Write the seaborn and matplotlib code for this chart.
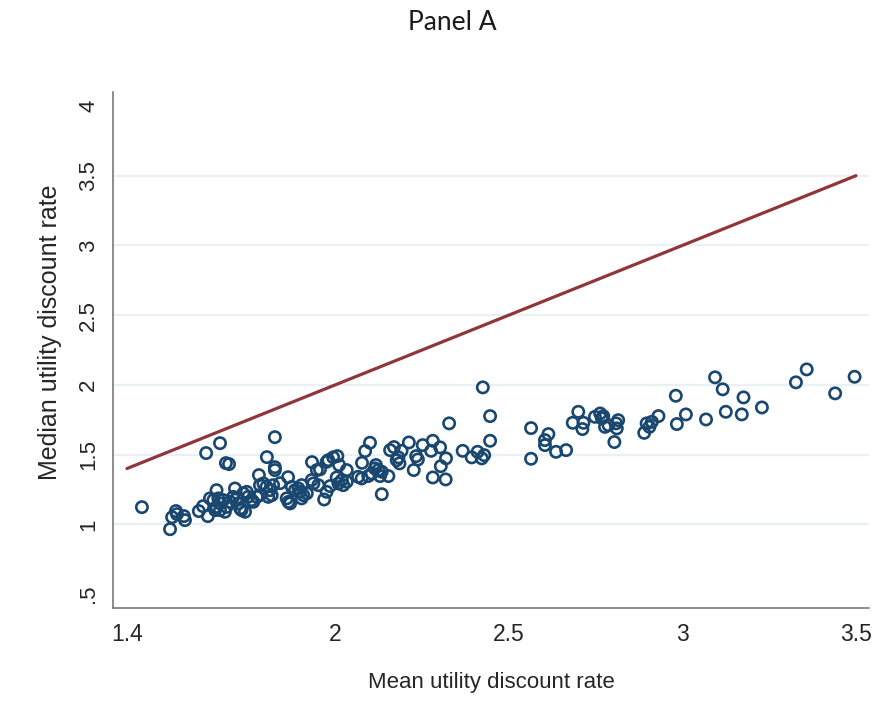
import matplotlib
matplotlib.use("Agg")
import matplotlib.pyplot as plt
from matplotlib import font_manager
import seaborn as sns
import pandas as pd

# ---- data ----
mean_rate = [
    1.443, 1.524, 1.530, 1.541, 1.544, 1.564, 1.567, 1.607, 1.619, 1.633,
    1.628, 1.668, 1.685, 1.694, 1.826, 1.803, 1.780, 1.826, 1.826, 1.864,
    1.933, 1.841,
    1.658, 1.663, 1.649, 1.639, 1.668, 1.677, 1.658, 1.654, 1.668, 1.682,
    1.687, 1.697, 1.711, 1.706, 1.716, 1.721, 1.726, 1.730, 1.740, 1.735,
    1.745, 1.749, 1.759, 1.764, 1.774, 1.783, 1.783, 1.793, 1.802, 1.812,
    1.817, 1.807, 1.821, 1.860, 1.865, 1.870, 1.875, 1.884, 1.894, 1.898,
    1.903, 1.908, 1.918, 1.932, 1.937, 1.947, 1.951,
    2.425, 2.446, 2.446, 2.328, 2.100, 2.086, 2.158, 2.169, 2.191, 2.212,
    2.252, 2.281, 2.276, 2.302, 2.367, 2.410, 2.393, 2.422, 2.429, 2.319,
    2.304, 2.318, 2.281, 2.233, 2.238, 2.226, 2.182, 2.185, 2.177, 2.134,
    2.077, 2.117, 2.114, 2.124, 2.134, 2.105, 2.095, 2.129, 2.153, 2.066,
    2.076, 2.033, 2.011, 1.994, 2.006, 1.980, 1.975, 1.956, 2.004, 2.019,
    2.023, 2.033, 2.009, 1.985, 1.975, 1.968, 1.903,
    2.564, 2.564, 2.604, 2.604, 2.614, 2.636, 2.665, 2.700, 2.684, 2.715,
    2.712, 2.748, 2.763, 2.768, 2.772, 2.777, 2.787, 2.809, 2.815, 2.811,
    2.804, 2.890, 2.897, 2.905, 2.912, 2.931, 2.981, 2.984, 3.010,
    3.094, 3.116, 3.176, 3.229, 3.171, 3.125, 3.068, 3.327, 3.358, 3.440,
    3.496,
]
median_rate = [
    1.123, 0.965, 1.051, 1.095, 1.073, 1.059, 1.030, 1.095, 1.130, 1.059,
    1.511, 1.582, 1.439, 1.432, 1.625, 1.482, 1.353, 1.389, 1.410, 1.338,
    1.446, 1.295,
    1.245, 1.186, 1.174, 1.186, 1.150, 1.174, 1.125, 1.102, 1.102, 1.090,
    1.125, 1.161, 1.257, 1.197, 1.186, 1.150, 1.114, 1.102, 1.090, 1.222,
    1.233, 1.197, 1.174, 1.161, 1.197, 1.209, 1.281, 1.293, 1.269, 1.245,
    1.209, 1.197, 1.281, 1.186, 1.161, 1.150, 1.269, 1.245, 1.257, 1.233,
    1.186, 1.209, 1.222, 1.317, 1.293, 1.389, 1.281,
    1.982, 1.776, 1.599, 1.724, 1.585, 1.525, 1.532, 1.554, 1.527, 1.587,
    1.568, 1.599, 1.527, 1.552, 1.527, 1.520, 1.480, 1.473, 1.496, 1.473,
    1.417, 1.322, 1.336, 1.489, 1.465, 1.389, 1.480, 1.437, 1.460, 1.216,
    1.441, 1.425, 1.401, 1.389, 1.377, 1.365, 1.346, 1.346, 1.346, 1.341,
    1.329, 1.389, 1.425, 1.480, 1.489, 1.460, 1.448, 1.394, 1.336, 1.317,
    1.281, 1.305, 1.293, 1.274, 1.233, 1.178, 1.281,
    1.690, 1.470, 1.604, 1.568, 1.647, 1.520, 1.532, 1.807, 1.728, 1.728,
    1.683, 1.771, 1.795, 1.760, 1.776, 1.699, 1.711, 1.724, 1.747, 1.688,
    1.590, 1.656, 1.724, 1.699, 1.735, 1.776, 1.922, 1.719, 1.788,
    2.054, 1.968, 1.910, 1.838, 1.788, 1.807, 1.752, 2.018, 2.111, 1.939,
    2.058,
]
line_x = [1.4, 3.5]
line_y = [1.4, 3.5]

x_ticks = [1.4, 2, 2.5, 3, 3.5]
x_ticklabels = ["1.4", "2", "2.5", "3", "3.5"]
y_ticks = [0.5, 1, 1.5, 2, 2.5, 3, 3.5, 4]
y_ticklabels = [".5", "1", "1.5", "2", "2.5", "3", "3.5", "4"]

title = "Panel A"
x_label = "Mean utility discount rate"
y_label = "Median utility discount rate"

# ---- styling ----
sns.set_style("white")
available = {f.name for f in font_manager.fontManager.ttflist}
narrow = "Liberation Sans Narrow" if "Liberation Sans Narrow" in available else "Liberation Sans"
plt.rcParams["font.family"] = ["Liberation Sans", "DejaVu Sans"]

navy = "#1a476f"
maroon = "#90353b"
axis_gray = "#6e6e6e"
grid_col = "#e8f1f3"
text_col = "#262626"

fig = plt.figure(figsize=(8.85, 7.09), dpi=100)
ax = fig.add_axes([113 / 885, 1 - 608 / 709, (869 - 113) / 885, (608 - 92) / 709])

df = pd.DataFrame({"mean": mean_rate, "median": median_rate})
line_df = pd.DataFrame({"x": line_x, "y": line_y})

# gridlines at interior y ticks
for g in y_ticks[1:-1]:
    ax.axhline(g, color=grid_col, lw=1.6, zorder=0)

sns.scatterplot(data=df, x="mean", y="median", ax=ax, marker="o",
                facecolors="none", edgecolor=navy, s=66, linewidth=1.9,
                zorder=3)
sns.lineplot(data=line_df, x="x", y="y", ax=ax, color=maroon, lw=2.3,
             zorder=4)

ax.set_xlim(1.3597, 3.5375)
ax.set_ylim(0.40, 4.10)

ax.set_xticks(x_ticks)
ax.set_xticklabels(x_ticklabels, fontfamily=narrow, fontsize=16.5, color=text_col)
ax.set_yticks(y_ticks)
ax.set_yticklabels(y_ticklabels, fontsize=16, color=text_col,
                   rotation=90, va="center")

ax.tick_params(axis="both", direction="out", length=6, width=1.1,
               color=axis_gray)
ax.tick_params(axis="x", pad=5)
ax.tick_params(axis="y", pad=4)

for side in ["top", "right"]:
    ax.spines[side].set_visible(False)
for side in ["left", "bottom"]:
    ax.spines[side].set_color(axis_gray)
    ax.spines[side].set_linewidth(1.1)

ax.set_xlabel(x_label, fontfamily=narrow, fontsize=16, color=text_col)
ax.set_ylabel(y_label, fontsize=18, color=text_col)
ax.xaxis.set_label_coords(0.5, -0.124)
ax.yaxis.set_label_coords(-0.068, 0.535)

fig.text(452 / 885, 1 - 22 / 709, title, ha="center", va="center",
         fontsize=19, color="#1a1a1a", family=["Lato", "DejaVu Sans"])

fig.savefig("out.png", dpi=100, facecolor="white")
